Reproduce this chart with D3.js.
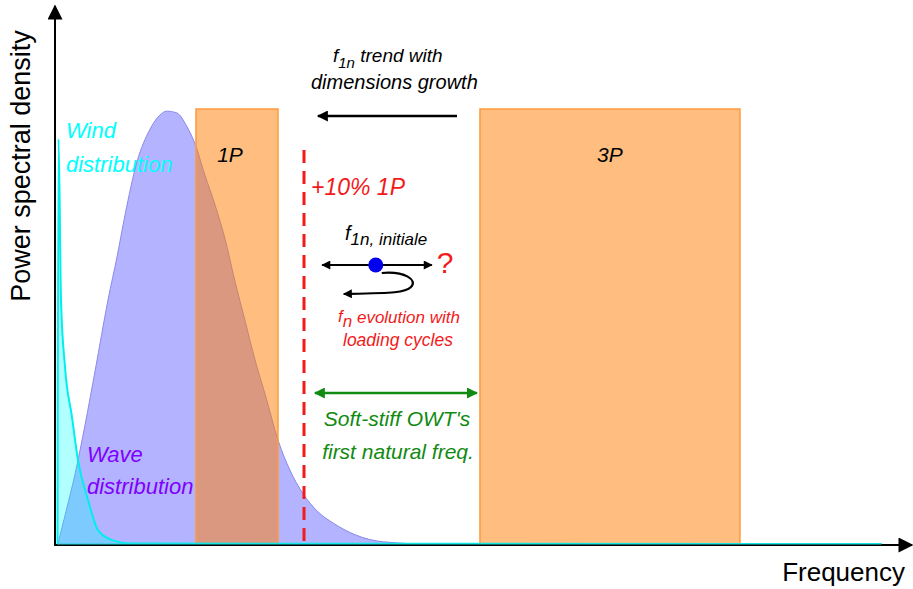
<!DOCTYPE html>
<html><head><meta charset="utf-8">
<script src="https://cdn.jsdelivr.net/npm/d3@7/dist/d3.min.js"></script>
<style>
body{margin:0;background:#fff}
svg{display:block;font-family:"Liberation Sans",Arial,sans-serif}
</style>
</head><body>
<svg id="chart" width="913" height="589"></svg>
<script>
// ---- data (frequency in normalised units, PSD normalised) ----
const waveFreq = [0.001,0.011,0.021,0.033,0.045,0.060,0.071,0.080,0.094,0.109,0.121,0.129,0.141,0.153,0.162,0.174,0.186,0.198,0.209,0.221,0.233,0.245,0.260,0.274,0.289,0.307,0.325,0.351,0.384,0.439,0.97];
const wavePSD  = [0,0.078,0.159,0.274,0.400,0.561,0.664,0.756,0.878,0.952,0.986,0.995,0.991,0.959,0.922,0.848,0.779,0.699,0.607,0.515,0.423,0.343,0.239,0.170,0.117,0.074,0.048,0.021,0.005,0,0];
const windFreq = [0.0006,0.0018,0.0047,0.0094,0.0176,0.0247,0.0365,0.0482,0.0647,0.0882,0.97];
const windPSD  = [0,0.931,0.561,0.407,0.292,0.193,0.101,0.032,0.009,0.001,0];
const bandLabels = ["1P","3P"];
const bandStart  = [0.1635,0.4976];
const bandEnd    = [0.260,0.8035];
const bandTop    = [1.0,1.0];
const limitFreq  = 0.2906;          // +10% 1P
const softStiff  = [0.3035,0.494];  // soft-stiff range
const trendArrow = [0.4706,0.307];  // f1n trend (from, to)
const f1nRange   = [0.312,0.441];
const f1nInit    = 0.375;

const svg = d3.select("#chart");
const x = d3.scaleLinear().domain([0,1]).range([57,907]);
const y = d3.scaleLinear().domain([0,1]).range([544,109]);

// markers
const defs = svg.append("defs");
function marker(id, color, w, h){
  defs.append("marker").attr("id",id).attr("viewBox","0 0 10 10")
    .attr("refX",9).attr("refY",5).attr("markerUnits","userSpaceOnUse")
    .attr("markerWidth",w).attr("markerHeight",h).attr("orient","auto-start-reverse")
    .append("path").attr("d","M0,0 L10,5 L0,10 Z").attr("fill",color);
}
marker("ablack","#000",17,11);
marker("ablack2","#000",14,9);
marker("agreen","#118a11",17,11);
marker("aaxis","#000",16,15);

const wave = waveFreq.map((f,i)=>[f,wavePSD[i]]);
const wind = windFreq.map((f,i)=>[f,windPSD[i]]);

// wave distribution
svg.append("path").datum(wave)
  .attr("d", d3.area().x(d=>x(d[0])).y0(y(0)).y1(d=>y(d[1])).curve(d3.curveMonotoneX))
  .attr("fill","#b3b3ff").attr("stroke","#8a8ae8").attr("stroke-width",1);

// 1P / 3P bands
svg.selectAll("rect.band").data(bandLabels).join("rect").attr("class","band")
  .attr("x",(d,i)=>x(bandStart[i])).attr("y",(d,i)=>y(bandTop[i]))
  .attr("width",(d,i)=>x(bandEnd[i])-x(bandStart[i])).attr("height",(d,i)=>y(0)-y(bandTop[i]))
  .attr("fill","rgb(255,125,0)").attr("fill-opacity",0.5)
  .attr("stroke","#ff9a3c").attr("stroke-width",1.5);
svg.selectAll("text.band").data(bandLabels).join("text").attr("class","band")
  .attr("x",(d,i)=>(x(bandStart[i])+x(bandEnd[i]))/2 - (i===0?7:0)).attr("y",162)
  .attr("text-anchor","middle").attr("font-size",21).attr("font-style","italic")
  .text(d=>d);

// wind distribution
svg.append("path").datum(wind)
  .attr("d", d3.area().x(d=>x(d[0])).y0(y(0)).y1(d=>y(d[1])).curve(d3.curveMonotoneX))
  .attr("fill","#00ffff").attr("fill-opacity",0.3);
svg.append("path").datum(wind)
  .attr("d", d3.line().x(d=>x(d[0])).y(d=>y(d[1])).curve(d3.curveMonotoneX))
  .attr("fill","none").attr("stroke","#00eeee").attr("stroke-width",2);

// axes
svg.append("line").attr("x1",55).attr("x2",55).attr("y1",546).attr("y2",6)
  .attr("stroke","#000").attr("stroke-width",2).attr("marker-end","url(#aaxis)");
svg.append("line").attr("x1",54).attr("x2",912).attr("y1",545).attr("y2",545)
  .attr("stroke","#000").attr("stroke-width",2).attr("marker-end","url(#aaxis)");
svg.append("line").attr("x1",57).attr("x2",x(0.97)).attr("y1",544).attr("y2",544)
  .attr("stroke","#22dddd").attr("stroke-width",1.2);

svg.append("text").attr("transform","translate(30,166) rotate(-90)")
  .attr("text-anchor","middle").attr("font-size",27).text("Power spectral density");
svg.append("text").attr("x",905).attr("y",581).attr("text-anchor","end")
  .attr("font-size",26).text("Frequency");

// +10% 1P dashed line
svg.append("line").attr("x1",x(limitFreq)).attr("x2",x(limitFreq)).attr("y1",150).attr("y2",545)
  .attr("stroke","#f21a1a").attr("stroke-width",3).attr("stroke-dasharray","13,8");
svg.append("text").attr("x",311).attr("y",195).attr("fill","#f21a1a")
  .attr("font-size",23).attr("font-style","italic").text("+10% 1P");

// distribution labels
const it = (xx,yy,col,size,txt)=>svg.append("text").attr("x",xx).attr("y",yy).attr("fill",col)
  .attr("font-size",size).attr("font-style","italic").text(txt);
it(66,138,"#00ffff",22,"Wind");
it(66,172,"#00ffff",22,"distribution");
it(87,462,"#8000ff",22,"Wave");
it(87,494,"#8000ff",22,"distribution");

// f1n trend
const t1 = svg.append("text").attr("x",333).attr("y",62).attr("font-size",19).attr("font-style","italic");
t1.append("tspan").text("f");
t1.append("tspan").attr("dy",6).attr("font-size",15).text("1n");
t1.append("tspan").attr("dy",-6).text(" trend with");
it(311,89,"#000",20,"dimensions growth");
svg.append("line").attr("x1",x(trendArrow[0])).attr("x2",x(trendArrow[1])).attr("y1",116).attr("y2",116)
  .attr("stroke","#000").attr("stroke-width",2.5).attr("marker-end","url(#ablack)");

// f1n initiale
const t2 = svg.append("text").attr("x",345).attr("y",240).attr("font-size",20).attr("font-style","italic");
t2.append("tspan").text("f");
t2.append("tspan").attr("dy",5).attr("font-size",17).text("1n, initiale");
svg.append("line").attr("x1",x(f1nRange[0])).attr("x2",x(f1nRange[1])).attr("y1",265).attr("y2",265)
  .attr("stroke","#000").attr("stroke-width",2.2)
  .attr("marker-start","url(#ablack2)").attr("marker-end","url(#ablack2)");
svg.append("path")
  .attr("d",`M${x(f1nInit)+6},273 C405,271 418,280 411,287 C405,293 392,293 ${x(f1nInit)-32},294`)
  .attr("fill","none").attr("stroke","#000").attr("stroke-width",2.2).attr("marker-end","url(#ablack2)");
svg.append("circle").attr("cx",x(f1nInit)).attr("cy",265).attr("r",7.5).attr("fill","#0000ee");
svg.append("text").attr("x",445).attr("y",273).attr("text-anchor","middle")
  .attr("fill","#f21a1a").attr("font-size",30).text("?");

// fn evolution
const t3 = svg.append("text").attr("x",338).attr("y",322).attr("font-size",17)
  .attr("font-style","italic").attr("fill","#f21a1a");
t3.append("tspan").text("f");
t3.append("tspan").attr("dy",5).attr("font-size",17).text("n");
t3.append("tspan").attr("dy",-4).text(" evolution with");
it(343,346,"#f21a1a",17.5,"loading cycles");

// soft-stiff range
svg.append("line").attr("x1",x(softStiff[0])).attr("x2",x(softStiff[1])).attr("y1",393).attr("y2",393)
  .attr("stroke","#118a11").attr("stroke-width",2.5)
  .attr("marker-start","url(#agreen)").attr("marker-end","url(#agreen)");
svg.append("text").attr("x",397).attr("y",426).attr("text-anchor","middle").attr("fill","#118a11")
  .attr("font-size",21).attr("font-style","italic").text("Soft-stiff OWT's");
svg.append("text").attr("x",398).attr("y",459).attr("text-anchor","middle").attr("fill","#118a11")
  .attr("font-size",21).attr("font-style","italic").text("first natural freq.");
</script>
</body></html>
